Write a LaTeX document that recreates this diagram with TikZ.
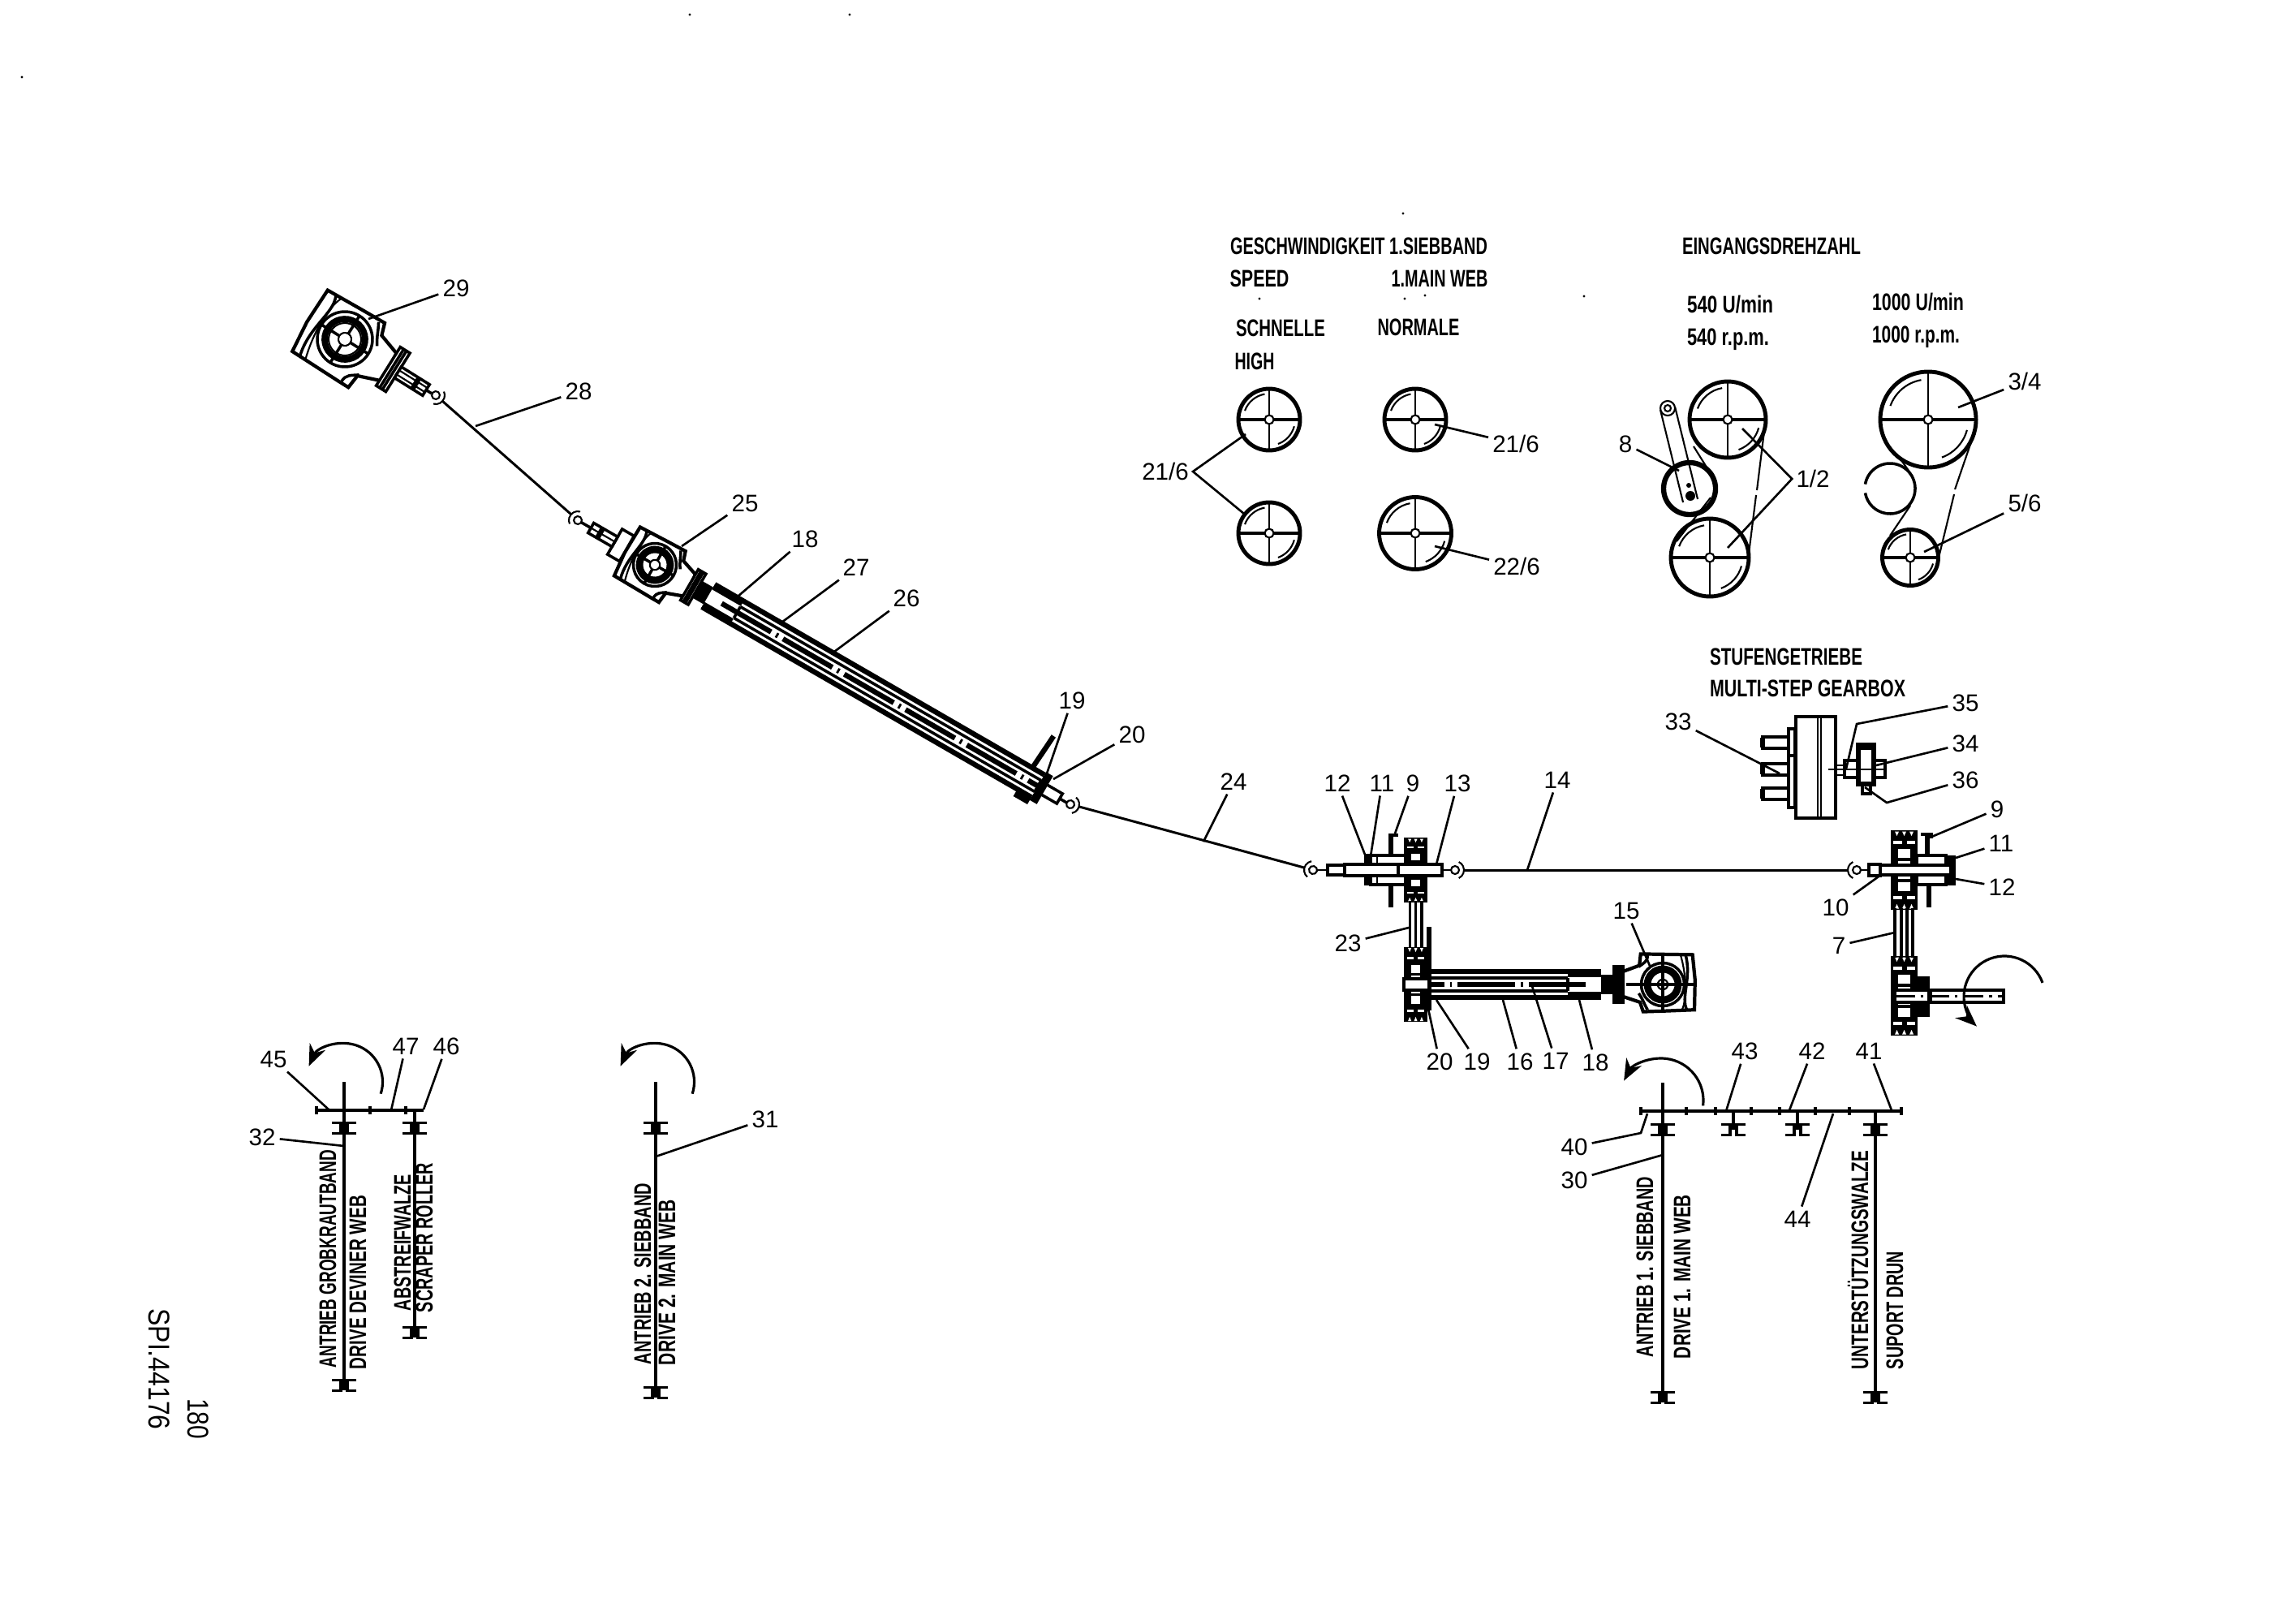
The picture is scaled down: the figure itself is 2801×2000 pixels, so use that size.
\documentclass[tikz,border=0pt]{standalone}
\usepackage{graphicx}
\usepackage{fontspec}
\setmainfont{Liberation Sans}
\usetikzlibrary{arrows.meta}
\newlength{\pxu}
\setlength{\pxu}{0.01cm}
\newcommand{\wtxt}[2]{\resizebox{#1\pxu}{\height}{#2}}
\tikzset
{
    thinl/.style = {line width=0.6pt},
    thickl/.style = {line width=1pt},
    vthick/.style = {line width=1.8pt},
    shaftline/.style = {line width=0.85pt, shorten <=3.1pt, shorten >=3.1pt},
    leader/.style = {line width=0.75pt},
    partlabel/.style = {font=\fontsize{8.4}{10}\selectfont, inner sep=1.5pt, outer sep=0pt},
    cadtext/.style = {font=\fontsize{8.4}{10}\selectfont\bfseries, inner sep=0pt, anchor=base},
    turnarrow/.style = {line width=0.9pt, -{Stealth[length=7.5pt,width=6pt]}},
    ujoint/.pic = {
        \draw[thinl] (0,0) circle (5);
        \draw[thinl] (65:11) arc (65:-65:11);
    },
    bearing/.pic = {
        \draw[thickl] (-15,-6.5) -- (-4,-6.5) -- (-4,6.5) -- (-15,6.5);
        \draw[thickl] (15,-6.5) -- (4,-6.5) -- (4,6.5) -- (15,6.5);
    },
    facepulley/.pic = {
        \draw[line width=1.4pt] (0,0) circle (#1);
        \draw[thinl] (-160:{0.84*#1}) arc (-160:-100:{0.84*#1});
        \draw[thinl] (15:{0.84*#1}) arc (15:70:{0.84*#1});
        \draw[thickl] (-#1,0) -- (#1,0);
        \draw[thinl] (0,-#1) -- (0,#1);
        \draw[thinl,fill=white] (0,0) circle (5.5);
    },
    vpulley/.pic = {
        \draw[thickl] (-15,-47) rectangle (15,47);
        \fill (-15,-47) rectangle (15,-36);
        \fill (-15,36) rectangle (15,47);
        \foreach \t in {-9,0,9}
        {
            \fill[white] (\t-2.5,-47.5) -- (\t+2.5,-47.5) -- (\t,-42) -- cycle;
            \fill[white] (\t-2.5,47.5) -- (\t+2.5,47.5) -- (\t,42) -- cycle;
        }
        \draw[vthick] (-11,-29) rectangle (11,29);
        \draw[thickl] (-11,-13) -- (11,-13);
        \draw[thickl] (-11,13) -- (11,13);
        \fill (-3,-36) rectangle (3,-29);
        \fill (-3,29) rectangle (3,36);
    },
    gearbox/.pic = {
        \draw[line width=1.2pt] (-50,-40) -- (0,-42) -- (31,-43) -- (36,-28) -- (63,-19) -- (67,19) -- (37,30) -- (35,48) -- (22,48) -- (-47,47) -- (-51,7) -- cycle;
        \draw[thickl] (-38,-40) .. controls (-28,-20) and (-46,10) .. (-36,47);
        \draw[thinl] (-30,-41) .. controls (-40,-20) and (-36,20) .. (-28,47);
        \draw[thickl] (24,-40) .. controls (30,-30) and (30,-26) .. (38,-14);
        \draw[thickl] (24,46) .. controls (24,36) and (30,34) .. (38,28);
        \draw[thickl] (0,0) circle (34);
        \draw[line width=2.2pt] (0,0) circle (25);
        \draw[thinl] (0,0) circle (20);
        \foreach \a in {0,90,180,270}
            \draw[thickl] (\a:8) -- (\a:34);
        \draw[thinl] (0,0) circle (8);
        \draw[thickl,fill=white] (63,-28) rectangle (77,28);
        \draw[thickl] (68,-28) -- (68,28);
        \draw[thickl] (72,-28) -- (72,28);
    },
    drivetube/.pic = {
        \fill (60,-12) rectangle (76,12);
        \fill (76,-17.5) rectangle (117,-9);
        \fill (76,9) rectangle (117,17.5);
        \draw[vthick] (76,-16) -- (#1,-16);
        \draw[vthick] (76,16) -- (#1,16);
        \draw[thickl] (117,-8) -- (#1,-8);
        \draw[thickl] (117,8) -- (#1,8);
        \draw[thickl] (117,-8) -- (117,8);
        \draw[vthick, dash pattern=on 20pt off 2pt on 0.8pt off 2pt] (95,0) -- (#1,0);
        \draw[thickl,fill=white] (#1,-7) rectangle ({#1+31},7);
    }
}
\begin{document}
\begin{tikzpicture}[x=0.01cm,y=-0.01cm,line width=0.8pt]
    \useasboundingbox (0,0) rectangle (2801,2000);
    % specks of the scan
    \foreach \sx/\sy in {850/18,1047/18,27/95,1729/263,1552/368,1731/368,1756/364,1952/365}
        \fill (\sx,\sy) circle (1.6);

    % ------------------------------------------------ joints and long shafts
    \coordinate (j29) at (537,487);
    \coordinate (j25) at (712,641);
    \coordinate (j20) at (1319,991);
    \coordinate (jl) at (1618,1072);
    \coordinate (jm) at (1793,1072);
    \coordinate (jr) at (2288,1072);
    \pic[rotate=-41] at (j29) {ujoint};
    \pic[rotate=139] at (j25) {ujoint};
    \pic[rotate=-15] at (j20) {ujoint};
    \pic[rotate=165] at (jl) {ujoint};
    \pic at (jm) {ujoint};
    \pic[rotate=180] at (jr) {ujoint};
    \draw[shaftline] (j29) -- (j25);
    \draw[shaftline] (j20) -- (jl);
    \draw[shaftline] (jm) -- (jr);

    % ------------------------------------------------ gearbox 29
    \pic[rotate=-32] at (425,418) {gearbox};
    \begin{scope}[shift={(425,418)},rotate=-32]
        \draw[thickl,fill=white] (77,-8) rectangle (118,8);
        \draw[thinl] (77,-3) -- (118,-3);
        \draw[thinl] (77,3) -- (118,3);
        \draw[vthick] (103,-8) -- (103,8);
        \draw[thickl] (118,0) -- (126,0);
    \end{scope}

    % ------------------------------------------------ long tube with gearbox 25
    \pic[rotate=-30] at (807,696) {drivetube=545};
    \pic[rotate=-30,scale=.78] at (807,696) {gearbox};
    \begin{scope}[shift={(807,696)},rotate=-30]
        \draw[thickl,fill=white] (-57,-18) rectangle (-40,18);
        \draw[thickl,fill=white] (-91,-7) rectangle (-57,7);
        \draw[thinl] (-91,0) -- (-57,0);
        \draw[vthick] (-78,-7) -- (-78,7);
        \draw[thickl] (-91,0) -- (-105,0);
        \draw[vthick] (528,-18) -- (531,-63);
        \fill (545,-20) rectangle (555,20);
        \fill (525,17) rectangle (545,26);
        \draw[thickl] (575,0) -- (586,0);
    \end{scope}

    % ------------------------------------------------ left double pulley with tube and gearbox 15
    \pic[xscale=.82,yscale=.81] at (1744.5,1072) {vpulley};
    \pic[xscale=.82,yscale=.95] at (1744.5,1213) {vpulley};
    \foreach \bx in {1737.5,1744.5,1752}
        \draw[thickl] (\bx,1110) -- (\bx,1168);
    \draw[vthick] (1761,1142) -- (1761,1245);
    \pic[rotate=180] at (2049,1213) {drivetube=288};
    \pic[rotate=180,scale=.78] at (2049,1213) {gearbox};
    \draw[thickl] (2004,1213) -- (2090,1213);
    \draw[thickl] (2049,1178) -- (2049,1247);
    \draw[thickl,fill=white] (1689,1054) rectangle (1732,1090);
    \fill (1681,1052) rectangle (1689,1091);
    \draw[thinl] (1697,1054) -- (1697,1090);
    \draw[thickl,fill=white] (1657,1065) rectangle (1777,1079);
    \draw[thickl,fill=white] (1636,1066) rectangle (1657,1078);
    \draw[thickl] (1723,1065) -- (1723,1079);
    \draw[thinl] (1636,1072) -- (1623,1072);
    \draw[thinl] (1777,1072) -- (1788,1072);
    \draw[thickl] (1711,1029) -- (1723,1029);
    \draw[vthick] (1714,1030) -- (1714,1054);
    \draw[vthick] (1714,1090) -- (1714,1118);

    % ------------------------------------------------ right double pulley
    \pic at (2346.5,1072) {vpulley};
    \pic at (2346.5,1227) {vpulley};
    \foreach \bx in {2335,2343,2350,2357}
        \draw[thickl] (\bx,1119) -- (\bx,1180);
    \draw[thickl,fill=white] (2362,1054) rectangle (2398,1090);
    \fill (2398,1054) rectangle (2410,1091);
    \draw[thickl,fill=white] (2317,1066) rectangle (2404,1078);
    \draw[thickl,fill=white] (2303,1065) rectangle (2317,1079);
    \draw[thinl] (2293,1072) -- (2303,1072);
    \draw[thickl] (2367,1028) -- (2380,1028) -- (2380,1033);
    \draw[vthick] (2375,1030) -- (2375,1054);
    \draw[vthick] (2377,1090) -- (2377,1118);
    \fill (2362,1203) rectangle (2378,1253);
    \draw[thickl,fill=white] (2335,1220) rectangle (2469,1235);
    \draw[vthick] (2378,1220) -- (2378,1235);
    \draw[thickl, dash pattern=on 7pt off 2pt on 1pt off 2pt] (2335,1227.5) -- (2469,1227.5);
    \draw[turnarrow] (2470,1228) ++(-20:50) arc (-20:-227:50);

    % ------------------------------------------------ stepped gearbox
    \draw[thickl] (2213,883) rectangle (2262,1008);
    \draw[thinl] (2240,883) -- (2240,1008);
    \draw[thinl] (2244,883) -- (2244,1008);
    \draw[thickl] (2204,898) rectangle (2212,995);
    \draw[thickl] (2204,931) -- (2212,931);
    \foreach \py in {915,948,978}
    {
        \draw[thickl] (2204,\py-7) -- (2172,\py-7) -- (2172,\py+7) -- (2204,\py+7);
        \draw[vthick] (2172,\py-6) -- (2172,\py+6);
    }
    \draw[thinl] (2262,943) -- (2273,943);
    \draw[thinl] (2262,955) -- (2273,955);
    \draw[thinl] (2253,948) -- (2323,948);
    \draw[thickl] (2273,937) rectangle (2323,958);
    \draw[thickl,fill=white] (2295,967) rectangle (2305,978);
    \draw[vthick,fill=white] (2290,918) rectangle (2309,966);
    \draw[thickl] (2290,922) -- (2309,922);
    \draw[thinl] (2290,948) -- (2309,948);

    % ------------------------------------------------ pulleys, speed of the first web
    \pic at (1564,517) {facepulley=38};
    \pic at (1564,657) {facepulley=38};
    \pic at (1744,517) {facepulley=38};
    \pic at (1744,657) {facepulley=44.5};

    % ------------------------------------------------ pulleys, input speed
    \pic at (2129,517) {facepulley=47};
    \pic at (2107,687) {facepulley=48};
    \draw[vthick] (2082,602) circle (32);
    \draw[thinl] (2055,503) circle (9);
    \draw[thinl] (2055,503) circle (4);
    \draw[thinl] (2046,505) -- (2074,619);
    \draw[thinl] (2064,501) -- (2092,615);
    \fill (2083,611) circle (6);
    \fill (2081,598) circle (3);
    \draw[thinl] (2087,550) -- (2112,590);
    \draw[thinl] (2108,613) -- (2066,667);
    \draw[thinl] (2175,523) -- (2165,604);
    \draw[thinl] (2164,610) -- (2154,690);
    \pic at (2376,517) {facepulley=59};
    \pic at (2354,687) {facepulley=34.5};
    \draw[thickl] (2329,602) ++(-170:31) arc (-170:170:31);
    \draw[thinl] (2340,563) -- (2357,587);
    \draw[thinl] (2354,623) -- (2329,660);
    \draw[thinl] (2434,530) -- (2409,603);
    \draw[thinl] (2408,609) -- (2389,687);

    % ------------------------------------------------ drive schemes below
    \draw[thickl] (424,1333) -- (424,1713);
    \draw[thickl] (511,1368) -- (511,1648);
    \draw[line width=1.1pt] (390,1368) -- (522,1368);
    \foreach \tx in {390,456,500}
        \draw[thickl] (\tx,1363) -- (\tx,1373);
    \pic at (424,1390) {bearing};
    \pic at (424,1707) {bearing};
    \pic at (511,1390) {bearing};
    \pic at (511,1642) {bearing};
    \draw[turnarrow] (424,1333) ++(18:47.5) arc (18:-156:47.5);

    \draw[thickl] (808,1333) -- (808,1722);
    \pic at (808,1390) {bearing};
    \pic at (808,1716) {bearing};
    \draw[turnarrow] (808,1333) ++(18:47.5) arc (18:-156:47.5);

    \draw[thickl] (2049,1334) -- (2049,1728);
    \draw[thickl] (2311,1369) -- (2311,1728);
    \draw[thickl] (2136,1369) -- (2136,1392);
    \draw[thickl] (2215,1369) -- (2215,1392);
    \draw[line width=1.1pt] (2022,1369) -- (2343,1369);
    \foreach \tx in {2022,2078,2114,2158,2193,2237,2279,2343}
        \draw[thickl] (\tx,1364) -- (\tx,1374);
    \foreach \bx in {2049,2136,2215,2311}
        \pic at (\bx,1392) {bearing};
    \pic at (2049,1722) {bearing};
    \pic at (2311,1722) {bearing};
    \draw[turnarrow] (2047,1356) ++(7:52) arc (7:-152:52);

    % ------------------------------------------------ texts
    \node[cadtext] (tspeedde) at (1674.5,313) {\wtxt{317}{GESCHWINDIGKEIT 1.SIEBBAND}};
    \node[cadtext] (tspeeden) at (1552,353) {\wtxt{73}{SPEED}};
    \node[cadtext] (tmainweb) at (1774,353) {\wtxt{119}{1.MAIN WEB}};
    \node[cadtext] (tschnelle) at (1578,414) {\wtxt{110}{SCHNELLE}};
    \node[cadtext] (tnormale) at (1748,413) {\wtxt{101}{NORMALE}};
    \node[cadtext] (thigh) at (1546,455) {\wtxt{49}{HIGH}};
    \node[cadtext] (tinput) at (2183,313) {\wtxt{220}{EINGANGSDREHZAHL}};
    \node[cadtext] (tumin) at (2132,385) {\wtxt{106}{540 U/min}};
    \node[cadtext] (trpm) at (2129.5,425) {\wtxt{101}{540 r.p.m.}};
    \node[cadtext] (tuminb) at (2363.5,382) {\wtxt{113}{1000 U/min}};
    \node[cadtext] (trpmb) at (2361,422) {\wtxt{108}{1000 r.p.m.}};
    \node[cadtext] (tstufen) at (2201,819) {\wtxt{188}{STUFENGETRIEBE}};
    \node[cadtext] (tmulti) at (2227.5,858) {\wtxt{241}{MULTI-STEP GEARBOX}};
    \node[cadtext,rotate=90] (tdrvone) at (2037,1561) {\wtxt{222}{ANTRIEB 1. SIEBBAND}};
    \node[cadtext,rotate=90] (tdrvonee) at (2083,1573) {\wtxt{202}{DRIVE 1. MAIN WEB}};
    \node[cadtext,rotate=90] (tsupport) at (2302,1552.5) {\wtxt{269}{UNTERSTÜTZUNGSWALZE}};
    \node[cadtext,rotate=90] (tsupporte) at (2345,1614.5) {\wtxt{145}{SUPORT DRUN}};
    \node[cadtext,rotate=90] (tgrob) at (414,1551) {\wtxt{268}{ANTRIEB GROBKRAUTBAND}};
    \node[cadtext,rotate=90] (tgrobe) at (451,1580) {\wtxt{214}{DRIVE DEVINER WEB}};
    \node[cadtext,rotate=90] (tabstr) at (506,1531) {\wtxt{168}{ABSTREIFWALZE}};
    \node[cadtext,rotate=90] (tabstre) at (533,1525) {\wtxt{184}{SCRAPER ROLLER}};
    \node[cadtext,rotate=90] (tdrvtwo) at (802,1569.5) {\wtxt{223}{ANTRIEB 2. SIEBBAND}};
    \node[cadtext,rotate=90] (tdrvtwoe) at (832,1580) {\wtxt{204}{DRIVE 2. MAIN WEB}};
    \node[cadtext,rotate=-90,font=\fontsize{10.5}{12}\selectfont] (tspi) at (183,1687) {\wtxt{149}{SPI.44176}};
    \node[cadtext,rotate=-90,font=\fontsize{10.5}{12}\selectfont] (tsheet) at (231,1748) {\wtxt{50}{180}};

    % ------------------------------------------------ part numbers with their leaders
    \node[partlabel] (p29) at (562,355) {29}; \coordinate (p29e) at (454,393); \draw[leader] (p29) -- (p29e);
    \node[partlabel] (p28) at (713,482) {28}; \coordinate (p28e) at (586,525); \draw[leader] (p28) -- (p28e);
    \node[partlabel] (p25) at (918,620) {25}; \coordinate (p25e) at (840,673); \draw[leader] (p25) -- (p25e);
    \node[partlabel] (p18a) at (992,664) {18}; \coordinate (p18ae) at (909,735); \draw[leader] (p18a) -- (p18ae);
    \node[partlabel] (p27) at (1055,699) {27}; \coordinate (p27e) at (963,767); \draw[leader] (p27) -- (p27e);
    \node[partlabel] (p26) at (1117,737) {26}; \coordinate (p26e) at (1028,803); \draw[leader] (p26) -- (p26e);
    \node[partlabel] (p19a) at (1321,863) {19}; \coordinate (p19ae) at (1290,953); \draw[leader] (p19a) -- (p19ae);
    \node[partlabel] (p20a) at (1395,905) {20}; \coordinate (p20ae) at (1298,960); \draw[leader] (p20a) -- (p20ae);
    \node[partlabel] (p24) at (1520,963) {24}; \coordinate (p24e) at (1483,1037); \draw[leader] (p24) -- (p24e);
    \node[partlabel] (p12a) at (1648,965) {12}; \coordinate (p12ae) at (1682,1053); \draw[leader] (p12a) -- (p12ae);
    \node[partlabel] (p11a) at (1703,965) {11}; \coordinate (p11ae) at (1689,1055); \draw[leader] (p11a) -- (p11ae);
    \node[partlabel] (p9a) at (1741,965) {9}; \coordinate (p9ae) at (1719,1027); \draw[leader] (p9a) -- (p9ae);
    \node[partlabel] (p13) at (1796,965) {13}; \coordinate (p13e) at (1770,1065); \draw[leader] (p13) -- (p13e);
    \node[partlabel] (p14) at (1919,961) {14}; \coordinate (p14e) at (1882,1072); \draw[leader] (p14) -- (p14e);
    \node[partlabel] (p15) at (2004,1122) {15}; \coordinate (p15e) at (2033,1190); \draw[leader] (p15) -- (p15e);
    \node[partlabel] (p23) at (1661,1162) {23}; \coordinate (p23e) at (1736,1143); \draw[leader] (p23) -- (p23e);
    \node[partlabel] (p20b) at (1774,1308) {20}; \coordinate (p20be) at (1760,1243); \draw[leader] (p20b) -- (p20be);
    \node[partlabel] (p19b) at (1820,1308) {19}; \coordinate (p19be) at (1770,1232); \draw[leader] (p19b) -- (p19be);
    \node[partlabel] (p16) at (1873,1308) {16}; \coordinate (p16e) at (1852,1232); \draw[leader] (p16) -- (p16e);
    \node[partlabel] (p17) at (1917,1307) {17}; \coordinate (p17e) at (1887,1212); \draw[leader] (p17) -- (p17e);
    \node[partlabel] (p18b) at (1966,1309) {18}; \coordinate (p18be) at (1946,1232); \draw[leader] (p18b) -- (p18be);
    \node[partlabel] (p33) at (2068,889) {33}; \coordinate (p33e) at (2193,953); \draw[leader] (p33) -- (p33e);
    \node[partlabel] (p35) at (2422,866) {35}; \coordinate (p35m) at (2288,892); \coordinate (p35e) at (2275,947); \draw[leader] (p35) -- (p35m) -- (p35e);
    \node[partlabel] (p34) at (2422,916) {34}; \coordinate (p34e) at (2312,943); \draw[leader] (p34) -- (p34e);
    \node[partlabel] (p36) at (2422,961) {36}; \coordinate (p36m) at (2325,989); \coordinate (p36e) at (2298,970); \draw[leader] (p36) -- (p36m) -- (p36e);
    \node[partlabel] (p9b) at (2461,997) {9}; \coordinate (p9be) at (2378,1032); \draw[leader] (p9b) -- (p9be);
    \node[partlabel] (p11b) at (2466,1039) {11}; \coordinate (p11be) at (2410,1057); \draw[leader] (p11b) -- (p11be);
    \node[partlabel] (p12b) at (2467,1093) {12}; \coordinate (p12be) at (2410,1083); \draw[leader] (p12b) -- (p12be);
    \node[partlabel] (p10) at (2262,1118) {10}; \coordinate (p10e) at (2315,1080); \draw[leader] (p10) -- (p10e);
    \node[partlabel] (p7) at (2266,1165) {7}; \coordinate (p7e) at (2335,1149); \draw[leader] (p7) -- (p7e);

    \node[partlabel] (p216a) at (1436,581) {21/6}; \coordinate (p216at) at (1535,535); \coordinate (p216ab) at (1533,633); \draw[leader] (p216at) -- (p216a.east) -- (p216ab);
    \node[partlabel] (p216b) at (1868,547) {21/6}; \coordinate (p216be) at (1768,523); \draw[leader] (p216b) -- (p216be);
    \node[partlabel] (p226) at (1869,698) {22/6}; \coordinate (p226e) at (1768,673); \draw[leader] (p226) -- (p226e);
    \node[partlabel] (p8) at (2003,547) {8}; \coordinate (p8e) at (2069,580); \draw[leader] (p8) -- (p8e);
    \node[partlabel] (p12c) at (2234,590) {1/2}; \coordinate (p12ct) at (2147,528); \coordinate (p12cb) at (2129,675); \draw[leader] (p12ct) -- (p12c.west) -- (p12cb);
    \node[partlabel] (p34b) at (2495,470) {3/4}; \coordinate (p34be) at (2413,502); \draw[leader] (p34b) -- (p34be);
    \node[partlabel] (p56) at (2495,620) {5/6}; \coordinate (p56e) at (2371,680); \draw[leader] (p56) -- (p56e);

    \node[partlabel] (p45) at (337,1305) {45}; \coordinate (p45e) at (405,1367); \draw[leader] (p45) -- (p45e);
    \node[partlabel] (p47) at (500,1289) {47}; \coordinate (p47e) at (482,1368); \draw[leader] (p47) -- (p47e);
    \node[partlabel] (p46) at (550,1289) {46}; \coordinate (p46e) at (522,1367); \draw[leader] (p46) -- (p46e);
    \node[partlabel] (p32) at (323,1401) {32}; \coordinate (p32e) at (424,1412); \draw[leader] (p32) -- (p32e);
    \node[partlabel] (p31) at (943,1379) {31}; \coordinate (p31e) at (808,1425); \draw[leader] (p31) -- (p31e);
    \node[partlabel] (p40) at (1940,1413) {40}; \coordinate (p40m) at (2022,1396); \coordinate (p40e) at (2030,1372); \draw[leader] (p40) -- (p40m) -- (p40e);
    \node[partlabel] (p30) at (1940,1454) {30}; \coordinate (p30e) at (2049,1423); \draw[leader] (p30) -- (p30e);
    \node[partlabel] (p43) at (2150,1295) {43}; \coordinate (p43e) at (2127,1369); \draw[leader] (p43) -- (p43e);
    \node[partlabel] (p42) at (2233,1295) {42}; \coordinate (p42e) at (2205,1368); \draw[leader] (p42) -- (p42e);
    \node[partlabel] (p41) at (2303,1295) {41}; \coordinate (p41e) at (2331,1368); \draw[leader] (p41) -- (p41e);
    \node[partlabel] (p44) at (2215,1502) {44}; \coordinate (p44e) at (2259,1372); \draw[leader] (p44) -- (p44e);
\end{tikzpicture}
\end{document}
